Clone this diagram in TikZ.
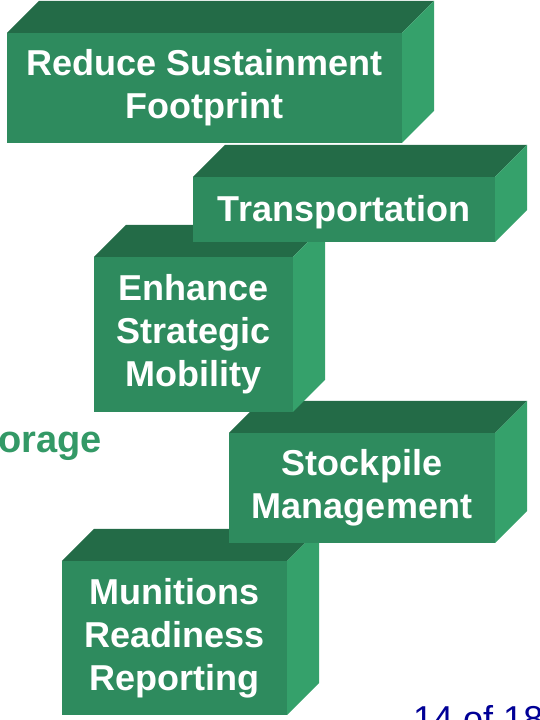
\documentclass[tikz,border=0pt]{standalone}
\usepackage{fontspec}
\setmainfont{Liberation Sans}
\definecolor{frontgreen}{RGB}{46,139,94}
\definecolor{topgreen}{RGB}{35,107,71}
\definecolor{sidegreen}{RGB}{53,161,107}
\definecolor{labelgreen}{RGB}{51,153,102}
\definecolor{pageblue}{RGB}{0,0,150}
% top and right faces of a block, from its front node
\newcommand{\blockfaces}[1]{%
  \fill[topgreen] (#1.north west) -- ++(32,32) -- ([shift={(32,32)}]#1.north east) -- (#1.north east) -- cycle;
  \fill[sidegreen] (#1.north east) -- ++(32,32) -- ([shift={(32,32)}]#1.south east) -- (#1.south east) -- cycle;}
\begin{document}
\begin{tikzpicture}[x=1pt,y=1pt,
    blockfront/.style={fill=frontgreen,text=white,inner sep=0pt,outer sep=0pt,align=center,
      font=\fontsize{36}{43}\selectfont\bfseries,
      execute at begin node={\rule{0pt}{33pt}},execute at end node={\rule[-8pt]{0pt}{8pt}}}]
    \useasboundingbox (0,0) rectangle (539,720);
    \node[blockfront,minimum width=225pt,minimum height=154pt] (munitions) at (174.5,82) {Munitions\\Readiness\\Reporting};
    \blockfaces{munitions}
    \node[blockfront,minimum width=266pt,minimum height=110pt] (stockpile) at (362,232) {Stockpile\\Management};
    \blockfaces{stockpile}
    \node[blockfront,minimum width=199pt,minimum height=155pt] (enhance) at (193.5,385.5) {Enhance\\Strategic\\Mobility};
    \blockfaces{enhance}
    \node[blockfront,minimum width=302pt,minimum height=65pt] (transport) at (344,510.5) {Transportation};
    \blockfaces{transport}
    \node[blockfront,minimum width=395pt,minimum height=110pt] (reduce) at (204.5,632) {Reduce Sustainment\\Footprint};
    \blockfaces{reduce}
    \node[anchor=base west,inner sep=0pt,text=labelgreen,font=\fontsize{38}{45}\selectfont\bfseries] (storage) at (-2,267) {orage};
    \node[anchor=base west,inner sep=0pt,text=pageblue,font=\fontsize{36}{43}\selectfont] (pagenum) at (413,-11) {14 of 18};
\end{tikzpicture}
\end{document}
